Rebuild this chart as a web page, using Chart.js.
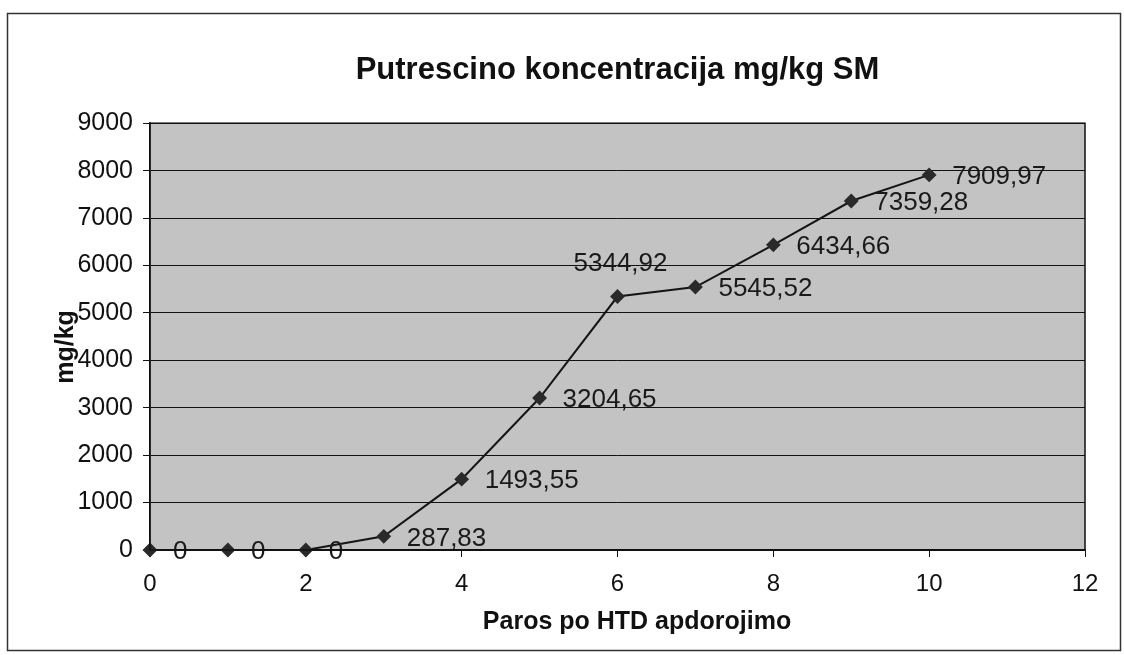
<!DOCTYPE html>
<html>
<head>
<meta charset="utf-8">
<script src="https://cdn.jsdelivr.net/npm/chart.js@4/dist/chart.umd.min.js"></script>
<style>
  html, body { margin: 0; padding: 0; background: #fff; }
  canvas { display: block; }
</style>
</head>
<body>
<canvas id="c" width="1124" height="655"></canvas>
<script>
// ---- data ----
const titleText = 'Putrescino koncentracija mg/kg SM';
const xAxisTitle = 'Paros po HTD apdorojimo';
const yAxisTitle = 'mg/kg';
const days = [0, 1, 2, 3, 4, 5, 6, 7, 8, 9, 10];
const concentration = [0, 0, 0, 287.83, 1493.55, 3204.65, 5344.92, 5545.52, 6434.66, 7359.28, 7909.97];
const valueLabels = ['0', '0', '0', '287,83', '1493,55', '3204,65', '5344,92', '5545,52', '6434,66', '7359,28', '7909,97'];
const labelPlacement = ['right', 'right', 'right', 'right', 'right', 'right', 'above', 'right', 'right', 'right', 'right'];

const FONT = 'Arial, "Liberation Sans", sans-serif';

const framePlugin = {
  id: 'frame',
  beforeDraw(chart) {
    const ctx = chart.ctx;
    const a = chart.chartArea;
    ctx.save();
    ctx.fillStyle = '#ffffff';
    ctx.fillRect(0, 0, chart.width, chart.height);
    ctx.strokeStyle = '#333';
    ctx.lineWidth = 1.5;
    ctx.strokeRect(7.5, 13.5, 1113, 637);
    ctx.fillStyle = '#c3c3c3';
    ctx.fillRect(a.left, a.top, a.right - a.left, a.bottom - a.top);
    ctx.restore();
  },
  afterDraw(chart) {
    const ctx = chart.ctx;
    const a = chart.chartArea;
    ctx.save();
    ctx.strokeStyle = '#111';
    ctx.lineWidth = 1.5;
    ctx.strokeRect(a.left, a.top, a.right - a.left, a.bottom - a.top);
    // axis titles
    ctx.fillStyle = '#111';
    ctx.font = 'bold 25px ' + FONT;
    ctx.textAlign = 'center';
    ctx.textBaseline = 'middle';
    ctx.fillText(xAxisTitle, 637, 622);
    ctx.translate(66, 347);
    ctx.rotate(-Math.PI / 2);
    ctx.fillText(yAxisTitle, 0, 0);
    ctx.restore();
  }
};

const valueLabelPlugin = {
  id: 'valueLabels',
  afterDatasetsDraw(chart) {
    const ctx = chart.ctx;
    const meta = chart.getDatasetMeta(0);
    ctx.save();
    ctx.fillStyle = '#1a1a1a';
    ctx.font = '26px ' + FONT;
    meta.data.forEach((pt, i) => {
      const txt = valueLabels[i];
      if (labelPlacement[i] === 'above') {
        ctx.textAlign = 'center';
        ctx.textBaseline = 'middle';
        ctx.fillText(txt, pt.x + 3, pt.y - 33);
      } else {
        ctx.textAlign = 'left';
        ctx.textBaseline = 'middle';
        ctx.fillText(txt, pt.x + 23, pt.y + 2);
      }
    });
    ctx.restore();
  }
};

new Chart(document.getElementById('c'), {
  type: 'line',
  data: {
    datasets: [{
      data: days.map((d, i) => ({ x: d, y: concentration[i] })),
      borderColor: '#151515',
      borderWidth: 2,
      pointStyle: 'rectRot',
      pointRadius: 6,
      pointBackgroundColor: '#2a2a2a',
      pointBorderColor: '#2a2a2a',
      tension: 0,
      fill: false,
      clip: false
    }]
  },
  options: {
    responsive: false,
    animation: false,
    layout: { padding: { left: 0, right: 39, top: 0, bottom: 0 } },
    plugins: {
      legend: { display: false },
      tooltip: { enabled: false },
      title: {
        display: true,
        fullSize: false,
        text: titleText,
        color: '#111',
        font: { family: FONT, size: 31, weight: 'bold', lineHeight: 1.2 },
        padding: { top: 52, bottom: 34 }
      }
    },
    scales: {
      x: {
        type: 'linear',
        min: 0,
        max: 12,
        ticks: { stepSize: 2, color: '#111', font: { family: FONT, size: 24 }, padding: 13, maxRotation: 0 },
        grid: { drawOnChartArea: false, drawTicks: true, tickLength: 7, color: '#111', tickColor: '#111' },
        border: { display: true, color: '#111', width: 1.5 },
        afterFit(scale) { scale.height = 105; }
      },
      y: {
        min: 0,
        max: 9000,
        ticks: { stepSize: 1000, color: '#111', font: { family: FONT, size: 25 }, padding: 10,
                 callback: (v) => String(v) },
        grid: { color: '#111', lineWidth: 1, tickLength: 7, tickColor: '#111' },
        border: { display: true, color: '#111', width: 1.5 },
        afterFit(scale) { scale.width = 150; }
      }
    }
  },
  plugins: [framePlugin, valueLabelPlugin]
});
</script>
</body>
</html>
